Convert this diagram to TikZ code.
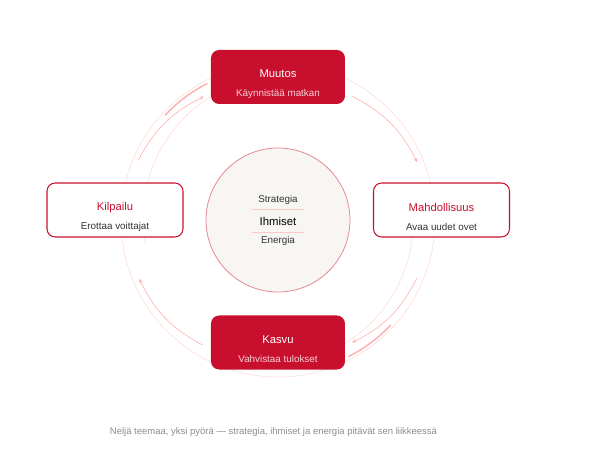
\documentclass[tikz,border=0pt]{standalone}
\usepackage{fontspec}
\setmainfont{Liberation Sans}
\usetikzlibrary{arrows.meta,positioning}
\definecolor{brand}{HTML}{C8102E}
\definecolor{corefill}{HTML}{F7F6F2}
\definecolor{coreline}{HTML}{E58A98}
\definecolor{subtone}{HTML}{F6D0D6}
\definecolor{inktone}{HTML}{333333}
\definecolor{notetone}{HTML}{8C8C8C}
\newcommand{\headfont}{\fontsize{9.6}{11}\selectfont}

\begin{document}
\begin{tikzpicture}[
    font=\fontsize{8.4}{10}\selectfont,
    solid/.style={fill=brand, rounded corners=7pt, minimum width=4.02cm, minimum height=1.62cm},
    hollow/.style={draw=brand, line width=0.9pt, fill=white, rounded corners=7pt, minimum width=4.08cm, minimum height=1.62cm},
    boxtxt/.style={align=center, inner sep=0pt},
    core/.style={circle, draw=coreline, line width=0.7pt, fill=corefill, minimum size=4.32cm},
    sep/.style={red!22, line width=0.5pt},
    flow/.style={-{Stealth[length=3.5pt, width=3pt]}, red!32, line width=0.5pt, bend left=18},
    ring/.style={red!14, line width=0.5pt},
    trail/.style={red!30, line width=1.3pt, line cap=round}
]
\useasboundingbox (-8.34,-7.14) rectangle (9.72,6.6);

\draw[ring] (0,0) circle[radius=4.71];
\draw[ring] (190:4.05) arc[start angle=190, end angle=118, radius=4.3];
\draw[ring] (10:4.05) arc[start angle=10, end angle=-62, radius=4.3];
\draw[trail] (137:4.62) arc[start angle=137, end angle=117, radius=4.5];
\draw[trail] (-43:4.62) arc[start angle=-43, end angle=-63, radius=4.5];

\node[core] (core) at (0,0) {};
\node[font=\fontsize{9.7}{11}\selectfont, text=black] (who) at (0,-0.03) {Ihmiset};
\node[text=inktone] (plan) at (0,0.6) {Strategia};
\node[text=inktone] (drive) at (0,-0.63) {Energia};
\coordinate (cut1a) at (-0.78,0.33);
\coordinate (cut1b) at (0.78,0.33);
\coordinate (cut2a) at (-0.78,-0.36);
\coordinate (cut2b) at (0.78,-0.36);
\draw[sep] (cut1a) -- (cut1b);
\draw[sep] (cut2a) -- (cut2b);

\node[solid] (muutos) at (0,4.29) {};
\node[boxtxt, text=white] (muutos-t) at ([yshift=-0.21cm]muutos.center) {{\headfont Muutos}\\[6pt]{\color{subtone}Käynnistää matkan}};
\node[hollow] (mahd) at (4.905,0.3) {};
\node[boxtxt, text=inktone] (mahd-t) at ([yshift=-0.21cm]mahd.center) {{\color{brand}\headfont Mahdollisuus}\\[6pt]Avaa uudet ovet};
\node[solid] (kasvu) at (0,-3.675) {};
\node[boxtxt, text=white] (kasvu-t) at ([yshift=-0.21cm]kasvu.center) {{\headfont Kasvu}\\[6pt]{\color{subtone}Vahvistaa tulokset}};
\node[hollow] (kilp) at (-4.89,0.3) {};
\node[boxtxt, text=inktone] (kilp-t) at ([yshift=-0.21cm]kilp.center) {{\color{brand}\headfont Kilpailu}\\[6pt]Erottaa voittajat};

\coordinate (muutos-out) at (59:4.33);
\coordinate (mahd-in) at (22.6:4.52);
\coordinate (mahd-out) at (-22.6:4.52);
\coordinate (kasvu-in) at (-58.8:4.3);
\coordinate (kasvu-out) at (-121:4.38);
\coordinate (kilp-in) at (-157:4.52);
\coordinate (kilp-out) at (157:4.56);
\coordinate (muutos-in) at (121:4.32);
\draw[flow] (muutos-out) to (mahd-in);
\draw[flow] (mahd-out) to (kasvu-in);
\draw[flow] (kasvu-out) to (kilp-in);
\draw[flow] (kilp-out) to (muutos-in);

\node[font=\fontsize{8.1}{10}\selectfont, text=notetone] (note) at (-0.135,-6.36) {Neljä teemaa, yksi pyörä — strategia, ihmiset ja energia pitävät sen liikkeessä};
\end{tikzpicture}
\end{document}
